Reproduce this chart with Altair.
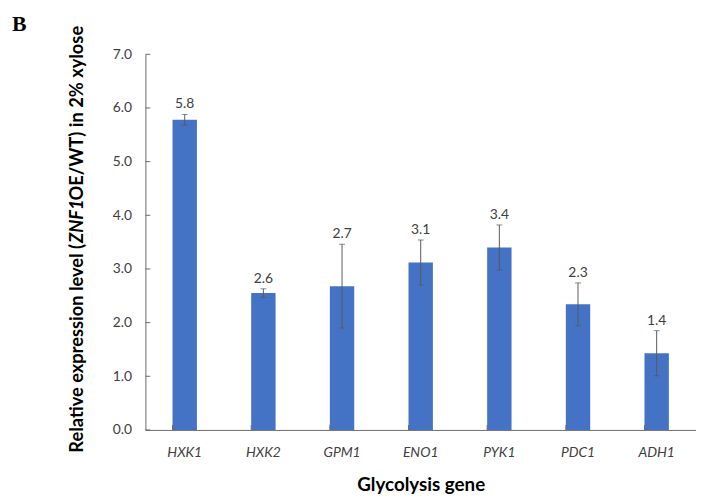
import altair as alt
import pandas as pd

genes = ["HXK1", "HXK2", "GPM1", "ENO1", "PYK1", "PDC1", "ADH1"]
values = [5.78, 2.55, 2.68, 3.12, 3.40, 2.34, 1.43]
errors = [0.10, 0.08, 0.78, 0.42, 0.42, 0.40, 0.42]
labels = ["5.8", "2.6", "2.7", "3.1", "3.4", "2.3", "1.4"]
y_ticks = [0, 1, 2, 3, 4, 5, 6, 7]

ytitle_parts = ["Relative expression level (", "ZNF1", "OE/WT) in 2% xylose"]

df = pd.DataFrame({"gene": genes, "value": values, "err": errors, "label": labels})
df["lo"] = df["value"] - df["err"]
df["hi"] = df["value"] + df["err"]
ticks_df = pd.DataFrame({"t": y_ticks})

W, H = 557, 380
FONT = "Lato"
TXT = "#404040"
AX = "#6b6b6b"
YT_SIZE = 18.5

yscale = alt.Scale(domain=[0, 7], nice=False, zero=True)
xscale = alt.Scale(paddingInner=0.69, paddingOuter=0.345)
XT = "Glycolysis gene"

base = alt.Chart(df)

bars = base.mark_bar(color="#4472C4").encode(
    x=alt.X("gene:N", sort=genes, scale=xscale, title=XT),
    y=alt.Y("value:Q", scale=yscale, title=None,
            axis=alt.Axis(values=y_ticks, format=".1f")),
)

err = base.mark_rule(color="#595959", strokeWidth=1).encode(
    x=alt.X("gene:N", sort=genes, title=XT),
    y=alt.Y("lo:Q", scale=yscale, title=None),
    y2="hi:Q",
)
cap_hi = base.mark_tick(color="#595959", size=6, thickness=1).encode(
    x=alt.X("gene:N", sort=genes, title=XT),
    y=alt.Y("hi:Q", scale=yscale, title=None),
)
cap_lo = base.mark_tick(color="#595959", size=6, thickness=1).encode(
    x=alt.X("gene:N", sort=genes, title=XT),
    y=alt.Y("lo:Q", scale=yscale, title=None),
)
text = base.mark_text(font=FONT, fontSize=14, color=TXT, baseline="bottom", dy=-3).encode(
    x=alt.X("gene:N", sort=genes, title=XT),
    y=alt.Y("hi:Q", scale=yscale, title=None),
    text="label:N",
)

# inward axis ticks
xticks = base.mark_rule(color=AX, strokeWidth=1).encode(
    x=alt.X("gene:N", sort=genes, bandPosition=0, title=XT),
    y=alt.value(H - 5),
    y2=alt.value(H),
)
yticks = alt.Chart(ticks_df).mark_rule(color=AX, strokeWidth=1).encode(
    y=alt.Y("t:Q", scale=yscale, title=None),
    x=alt.value(0),
    x2=alt.value(5),
)

# y-axis title in pieces (italic gene name)
t1 = alt.Chart(pd.DataFrame({"s": [ytitle_parts[0]]})).mark_text(
    font=FONT, fontSize=YT_SIZE, fontWeight="bold", color="black", angle=270,
    align="left", baseline="middle").encode(text="s:N", x=alt.value(-69), y=alt.value(403))
t2 = alt.Chart(pd.DataFrame({"s": [ytitle_parts[1]]})).mark_text(
    font=FONT, fontSize=YT_SIZE, fontWeight="bold", fontStyle="italic", color="black", angle=270,
    align="left", baseline="middle").encode(text="s:N", x=alt.value(-69), y=alt.value(191))
t3 = alt.Chart(pd.DataFrame({"s": [ytitle_parts[2]]})).mark_text(
    font=FONT, fontSize=YT_SIZE, fontWeight="bold", color="black", angle=270,
    align="left", baseline="middle").encode(text="s:N", x=alt.value(-69), y=alt.value(148))

panel = alt.Chart(pd.DataFrame({"s": ["B"]})).mark_text(
    font="Liberation Serif", fontSize=22, fontWeight="bold", color="black",
    align="left", baseline="alphabetic").encode(text="s:N", x=alt.value(-135), y=alt.value(-24))

chart = alt.layer(bars, err, cap_hi, cap_lo, text, xticks, yticks, t1, t2, t3, panel).properties(
    width=W, height=H,
    autosize=alt.AutoSizeParams(type="none"),
    padding={"left": 139, "top": 44, "right": 0, "bottom": 66},
).configure_view(stroke=None).configure_axisX(
    labelAngle=0, labelFont=FONT, labelFontStyle="italic", labelFontSize=14, labelColor=TXT,
    labelPadding=16, tickSize=0, domainColor=AX, grid=False,
    titleFont=FONT, titleFontSize=19, titleFontWeight="bold", titleColor="black", titlePadding=16,
).configure_axisY(
    labelFont=FONT, labelFontSize=14, labelColor=TXT, labelPadding=14, tickSize=0,
    domainColor=AX, grid=False,
)

chart.save("out.html", embed_options={"renderer": "svg", "actions": False})
